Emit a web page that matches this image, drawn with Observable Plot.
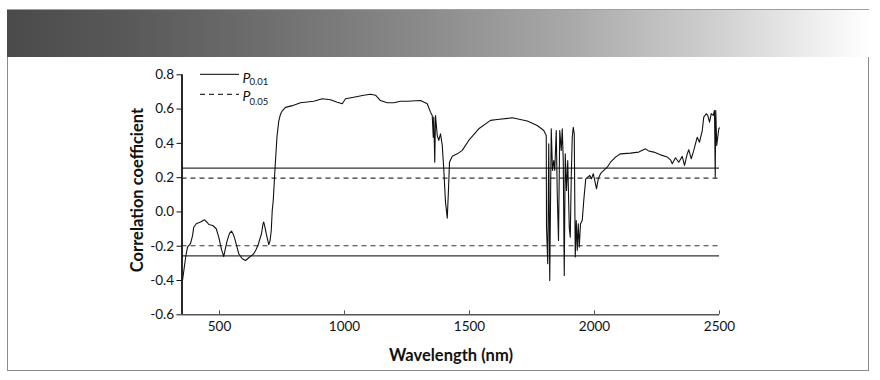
<!DOCTYPE html>
<html>
<head>
<meta charset="utf-8">
<script src="https://cdn.jsdelivr.net/npm/d3@7"></script>
<script src="https://cdn.jsdelivr.net/npm/@observablehq/plot@0.6"></script>
<style>
  body { margin: 0; background: #fff; font-family: Lato, "Noto Sans", sans-serif; }
  #wrap { position: relative; width: 880px; height: 380px; overflow: hidden; background: #fff; }
  #band { position: absolute; left: 7px; top: 9px; width: 862px; height: 48px; box-sizing: border-box;
          border-top: 1px solid #a0a0a0;
          background: linear-gradient(to right, #4a4a4a 0%, #5a5a5a 15%, #6e6e6e 30%, #8a8a8a 48%, #a8a8a8 65%, #cfcfcf 82%, #ffffff 100%); }
  #panel { position: absolute; left: 7px; top: 57px; width: 862px; height: 314px; box-sizing: border-box;
           border: 1.5px solid #8c8c8c; border-top: none; }
  #chart { position: absolute; left: 8px; top: 57px; }
  #overlay { position: absolute; left: 0; top: 0; pointer-events: none; }
  .ylab { position: absolute; left: 137px; top: 190px; transform: translate(-50%, -50%) rotate(-90deg);
          font-weight: 700; font-size: 16.5px; color: #111; white-space: nowrap; }
  .xlab { position: absolute; left: 451px; top: 355px; transform: translate(-50%, -50%);
          font-weight: 700; font-size: 16.5px; color: #111; white-space: nowrap; }
</style>
</head>
<body>
<div id="wrap">
  <div id="band"></div>
  <div id="panel"></div>
  <div id="chart"></div>
  <div class="ylab">Correlation coefficient</div>
  <div class="xlab">Wavelength (nm)</div>
  <svg id="overlay" width="880" height="380">
    <line x1="200" x2="239" y1="74.3" y2="74.3" stroke="#333" stroke-width="1.2"></line>
    <line x1="200" x2="239" y1="94.3" y2="94.3" stroke="#333" stroke-width="1.2" stroke-dasharray="5,4"></line>
    <text x="242.5" y="83" font-family="Lato, sans-serif" font-style="italic" font-size="14" fill="#111">P</text>
    <text x="249.5" y="84.5" font-family="Lato, sans-serif" font-size="9.5" fill="#111">0.01</text>
    <text x="242.5" y="101" font-family="Lato, sans-serif" font-style="italic" font-size="14" fill="#111">P</text>
    <text x="249.5" y="104.5" font-family="Lato, sans-serif" font-size="9.5" fill="#111">0.05</text>
  </svg>
</div>
<script>
// ---- data ----
const wavelength = [
  352, 365, 372, 384, 392, 397, 407, 424, 440, 450, 457, 473, 487, 497, 508, 517, 524, 531, 540, 548,
  555, 561, 569, 577, 591, 604, 617, 630, 637, 646, 655, 663, 668, 674, 677, 682, 687, 697, 702, 707,
  711, 715, 720, 724, 730, 737, 744, 751, 764, 791, 824, 877, 911, 944, 971, 991, 1004, 1037, 1077, 1104,
  1124, 1144, 1171, 1197, 1224, 1251, 1304, 1331, 1344, 1351, 1355, 1357, 1361, 1364, 1371, 1377, 1384, 1391, 1397, 1404,
  1411, 1415, 1420, 1431, 1451, 1471, 1497, 1537, 1584, 1611, 1671, 1731, 1771, 1797, 1807, 1808, 1813, 1817, 1821, 1827,
  1832, 1837, 1841, 1847, 1851, 1856, 1861, 1867, 1871, 1875, 1879, 1883, 1888, 1893, 1899, 1903, 1907, 1911, 1915, 1919,
  1923, 1927, 1931, 1935, 1939, 1944, 1951, 1957, 1965, 1973, 1981, 1988, 1995, 2001, 2008, 2015, 2024, 2037, 2051, 2064,
  2084, 2104, 2144, 2177, 2204, 2217, 2237, 2264, 2291, 2304, 2311, 2324, 2337, 2351, 2360, 2371, 2377, 2387, 2397, 2411,
  2420, 2431, 2437, 2447, 2453, 2460, 2467, 2475, 2480, 2483, 2485, 2489, 2497, 2500
];
const correlation = [
  -0.40, -0.26, -0.205, -0.185, -0.14, -0.089, -0.069, -0.059, -0.046, -0.06, -0.073, -0.079, -0.098, -0.147, -0.22, -0.26, -0.21, -0.166, -0.125, -0.112,
  -0.13, -0.156, -0.20, -0.244, -0.273, -0.283, -0.267, -0.252, -0.244, -0.22, -0.19, -0.15, -0.127, -0.07, -0.059, -0.09, -0.127, -0.19, -0.17, -0.108,
  0.01, 0.067, 0.20, 0.30, 0.44, 0.53, 0.57, 0.59, 0.61, 0.62, 0.637, 0.646, 0.66, 0.654, 0.64, 0.631, 0.66, 0.669, 0.681, 0.687,
  0.681, 0.65, 0.637, 0.637, 0.646, 0.646, 0.65, 0.631, 0.582, 0.563, 0.436, 0.553, 0.29, 0.563, 0.446, 0.417, 0.456, 0.388, 0.252, 0.057,
  -0.036, 0.096, 0.29, 0.325, 0.339, 0.359, 0.417, 0.485, 0.534, 0.539, 0.549, 0.53, 0.504, 0.475, 0.446, -0.089, -0.302, 0.398, -0.40, 0.485,
  0.242, 0.30, 0.242, 0.475, 0.106, -0.166, 0.475, 0.359, 0.485, 0.30, -0.37, 0.339, 0.125, 0.30, -0.089, -0.147, 0.203, 0.436, 0.494, 0.456,
  -0.263, -0.05, -0.224, -0.069, -0.205, -0.069, -0.05, 0.067, 0.193, 0.203, 0.213, 0.193, 0.223, 0.184, 0.135, 0.193, 0.223, 0.242, 0.261, 0.29,
  0.32, 0.339, 0.343, 0.349, 0.368, 0.355, 0.349, 0.333, 0.32, 0.304, 0.281, 0.316, 0.29, 0.324, 0.271, 0.339, 0.363, 0.31, 0.359, 0.436,
  0.407, 0.475, 0.553, 0.573, 0.563, 0.524, 0.573, 0.563, 0.592, 0.203, 0.592, 0.388, 0.485, 0.49
];
const xDomain = [350, 2500];
const yDomain = [-0.6, 0.8];
const xTicks = [500, 1000, 1500, 2000, 2500];
const yTicks = [-0.6, -0.4, -0.2, 0.0, 0.2, 0.4, 0.6, 0.8];
const p01Levels = [0.256, -0.256];
const p05Levels = [0.197, -0.197];

const data = wavelength.map((w, i) => ({w, r: correlation[i]}));

const chart = Plot.plot({
  width: 860,
  height: 312,
  marginLeft: 173.5,
  marginRight: 149,
  marginTop: 17.3,
  marginBottom: 54.7,
  x: {domain: xDomain},
  y: {domain: yDomain},
  style: {fontFamily: "Lato, 'Noto Sans', sans-serif", fontSize: "13.5px", color: "#111", background: "transparent", overflow: "visible"},
  marks: [
    Plot.ruleY(p05Levels, {stroke: "#333", strokeWidth: 1.1, strokeDasharray: "5,4"}),
    Plot.ruleY(p01Levels, {stroke: "#333", strokeWidth: 1.2}),
    Plot.lineY(data, {x: "w", y: "r", stroke: "#111", strokeWidth: 1.1}),
    Plot.axisY({ticks: yTicks, tickFormat: d => d.toFixed(1), tickSize: 5, tickPadding: 3, label: null}),
    Plot.axisX({ticks: xTicks, tickFormat: d => String(d), tickSize: -4, tickPadding: 11, label: null, stroke: "#555"}),
    Plot.ruleY([yDomain[0]], {stroke: "#555", strokeWidth: 1.4}),
    Plot.ruleX([xDomain[0]], {y1: yDomain[0], y2: yDomain[1], stroke: "#111", strokeWidth: 1.8})
  ]
});
document.getElementById("chart").appendChild(chart);
</script>
</body>
</html>
